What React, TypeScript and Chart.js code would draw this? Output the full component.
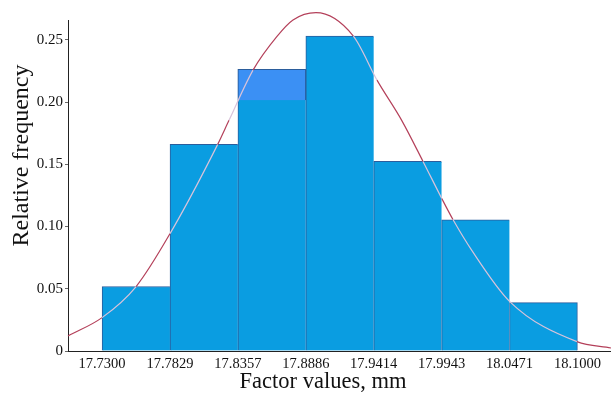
import React, { useEffect, useRef } from "react";
import { Chart, registerables } from "chart.js";

Chart.register(...registerables);

// Bin edges (mm) and tick labels
const binEdges = [17.73, 17.7829, 17.8357, 17.8886, 17.9414, 17.9943, 18.0471, 18.1];
const xTickLabels = ["17.7300", "17.7829", "17.8357", "17.8886", "17.9414", "17.9943", "18.0471", "18.1000"];
// Relative frequency per bin
const relFreq = [0.0518, 0.166, 0.2262, 0.253, 0.1523, 0.1053, 0.0389];
// Lighter band in 3rd bin [bottom, top]
const highlightBin = 2;
const highlightRange: [number, number] = [0.2015, 0.2262];
// Fitted normal curve
const curveX = [17.7035, 17.73, 17.7565, 17.7829, 17.82, 17.8288, 17.8475, 17.866, 17.8786, 17.8965, 17.9256, 17.944, 17.9632, 17.9798, 17.9944, 18.0031, 18.0179, 18.0475, 18.0996, 18.1261];
const curveY = [0.0121, 0.0268, 0.0518, 0.0943, 0.166, 0.1853, 0.2256, 0.2525, 0.2659, 0.2718, 0.253, 0.2176, 0.1853, 0.1523, 0.1225, 0.1056, 0.0806, 0.0395, 0.0075, 0.0024];
const yTicks = [0, 0.05, 0.1, 0.15, 0.2, 0.25];
const yTickLabels = ["0", "0.05", "0.10", "0.15", "0.20", "0.25"];
const xTitle = "Factor values, mm";
const yTitle = "Relative frequency";

const SERIF = '"Liberation Serif", "Times New Roman", serif';

export default function App() {
  const ref = useRef<HTMLCanvasElement | null>(null);

  useEffect(() => {
    if (!ref.current) return;
    const centers = relFreq.map((_, i) => (binEdges[i] + binEdges[i + 1]) / 2);
    const barData = relFreq.map((v, i) => ({ x: centers[i], y: v }));
    const hlData = [{ x: centers[highlightBin], y: highlightRange }];
    const lineData = curveX.map((x, i) => ({ x, y: curveY[i] }));
    const last = relFreq.length - 1;

    const underBar = (x: number, y: number) => {
      for (let i = 0; i < relFreq.length; i++) {
        if (x >= binEdges[i] && x <= binEdges[i + 1]) return y <= relFreq[i];
      }
      return false;
    };

    const titlePlugin = {
      id: "titles",
      afterDraw(chart: any) {
        const c = chart.ctx;
        c.save();
        c.fillStyle = "#111";
        c.textAlign = "center";
        c.textBaseline = "alphabetic";
        c.font = `22.5px ${SERIF}`;
        c.fillText(xTitle, 323, 388);
        c.translate(28, 155.5);
        c.rotate(-Math.PI / 2);
        c.font = `24px ${SERIF}`;
        c.fillText(yTitle, 0, 0);
        c.restore();
      },
    };

    const chart = new Chart(ref.current, {
      type: "bar",
      data: {
        datasets: [
          {
            type: "line",
            data: lineData as any,
            borderColor: "#b4405a",
            borderWidth: 1.2,
            pointRadius: 0,
            cubicInterpolationMode: "monotone",
            clip: false as any,
            order: 0,
            segment: {
              borderColor: (ctx: any) => {
                const mx = (ctx.p0.parsed.x + ctx.p1.parsed.x) / 2;
                const my = (ctx.p0.parsed.y + ctx.p1.parsed.y) / 2;
                return underBar(mx, my) ? "#d9c3da" : "#b4405a";
              },
            },
          } as any,
          {
            type: "bar",
            data: hlData as any,
            backgroundColor: "#3b90f4",
            borderColor: "#2b5d9c",
            borderWidth: { top: 1, left: 1, right: 1, bottom: 0 },
            borderSkipped: false,
            barPercentage: 1,
            categoryPercentage: 1,
            grouped: false,
            order: 1,
          } as any,
          {
            type: "bar",
            data: barData as any,
            backgroundColor: "#0a9de1",
            borderColor: "#2b5d9c",
            borderWidth: (ctx: any) => ({ top: 1, left: 1, right: ctx.dataIndex === last ? 1 : 0, bottom: 0 }),
            borderSkipped: false,
            barPercentage: 1,
            categoryPercentage: 1,
            grouped: false,
            order: 2,
          } as any,
        ],
      },
      options: {
        responsive: false,
        animation: false,
        layout: { padding: { top: 20, right: 0, left: 0, bottom: 0 } },
        plugins: { legend: { display: false }, tooltip: { enabled: false } },
        scales: {
          x: {
            type: "linear",
            offset: false,
            min: 17.7035,
            max: 18.1261,
            afterBuildTicks: (scale: any) => {
              scale.ticks = binEdges.map((v) => ({ value: v }));
            },
            afterFit: (scale: any) => {
              scale.height = 48;
            },
            ticks: {
              autoSkip: false,
              maxRotation: 0,
              padding: 4,
              color: "#111",
              font: { family: SERIF, size: 14.5 },
              callback: (_v: any, i: number) => xTickLabels[i],
            },
            grid: { display: false, drawTicks: false, offset: false },
            border: { display: true, color: "#222", width: 1 },
          },
          y: {
            type: "linear",
            min: 0,
            max: 0.2659,
            afterBuildTicks: (scale: any) => {
              scale.ticks = yTicks.map((v) => ({ value: v }));
            },
            afterFit: (scale: any) => {
              scale.width = 68;
            },
            ticks: {
              padding: 2,
              color: "#111",
              font: { family: SERIF, size: 15 },
              callback: (_v: any, i: number) => yTickLabels[i],
            },
            grid: { display: true, drawOnChartArea: false, drawTicks: true, tickLength: 3, color: "#666" },
            border: { display: true, color: "#222", width: 1 },
          },
        },
      },
      plugins: [titlePlugin],
    });
    return () => chart.destroy();
  }, []);

  return (
    <div style={{ position: "fixed", left: 0, top: 0, width: 611, height: 399, background: "#fff" }}>
      <canvas ref={ref} width={611} height={399} style={{ display: "block" }} />
    </div>
  );
}
